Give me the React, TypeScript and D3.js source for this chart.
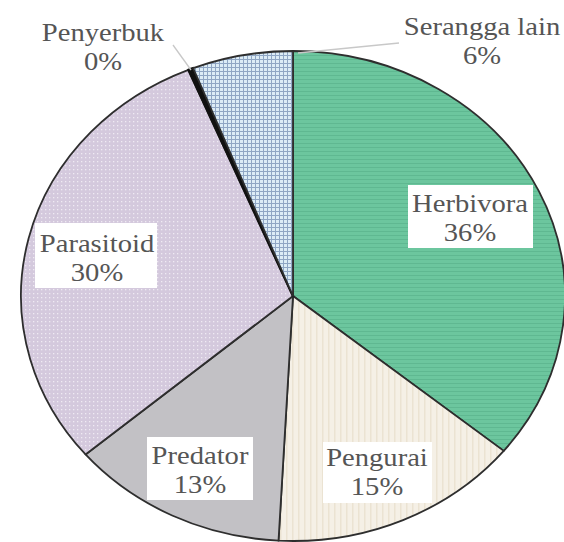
import React from "react";
import * as d3 from "d3";

const categories = ["Herbivora", "Pengurai", "Predator", "Parasitoid", "Penyerbuk", "Serangga lain"];
const values = [36, 15, 13, 30, 0.3, 6];
const labels = ["36%", "15%", "13%", "30%", "0%", "6%"];

const W = 564, H = 542;
const cx = 293, cy = 296, rx = 272, ry = 245;
const SX = 1.1;

const fills = ["url(#pHerb)", "url(#pPeng)", "url(#pPred)", "url(#pPara)", "#111", "url(#pSer)"];

const labelPos: Record<string, { x: number; y: number }> = {
  Herbivora: { x: 470, y: 212 },
  Pengurai: { x: 377, y: 466 },
  Predator: { x: 200, y: 464 },
  Parasitoid: { x: 97, y: 252 },
  Penyerbuk: { x: 103, y: 41 },
  "Serangga lain": { x: 482, y: 35 },
};

function pt(a: number) {
  return [cx + rx * Math.sin(a), cy - ry * Math.cos(a)];
}

export default function App() {
  const pie = d3.pie<number>().sort(null).startAngle(0).endAngle(2 * Math.PI);
  const arcs = pie(values);
  const textColor = "#555555";
  const fs = 26;

  const boxes: Record<string, [number, number, number, number]> = {
    Herbivora: [408, 185, 125, 63],
    Pengurai: [323, 442, 109, 61],
    Predator: [147, 437, 106, 63],
    Parasitoid: [35, 223, 122, 65],
  };

  return (
    <svg width={W} height={H} style={{ position: "absolute", left: 0, top: 0, background: "#fff" }}>
      <defs>
        <pattern id="pHerb" patternUnits="userSpaceOnUse" width="6" height="4">
          <rect width="6" height="4" fill="#6cc69e" />
          <rect y="3" width="6" height="1" fill="#5fb891" />
        </pattern>
        <pattern id="pPeng" patternUnits="userSpaceOnUse" width="6" height="4">
          <rect width="6" height="4" fill="#f5f0e6" />
          <rect x="4" width="1.5" height="4" fill="#ebe3d2" />
        </pattern>
        <pattern id="pPred" patternUnits="userSpaceOnUse" width="4" height="4">
          <rect width="4" height="4" fill="#c2c1c5" />
        </pattern>
        <pattern id="pPara" patternUnits="userSpaceOnUse" width="4" height="4">
          <rect width="4" height="4" fill="#d4c9dd" />
          <rect x="1" y="1" width="1.3" height="1.3" fill="#efeaf3" />
        </pattern>
        <pattern id="pSer" patternUnits="userSpaceOnUse" width="4" height="4">
          <rect width="4" height="4" fill="#dcecf6" />
          <rect x="3" width="1" height="4" fill="#8fa6c4" />
          <rect y="3" width="4" height="1" fill="#8fa6c4" />
        </pattern>
      </defs>
      {arcs.map((a, i) => {
        const [x0, y0] = pt(a.startAngle);
        const [x1, y1] = pt(a.endAngle);
        const large = a.endAngle - a.startAngle > Math.PI ? 1 : 0;
        const d = `M${cx},${cy}L${x0},${y0}A${rx},${ry} 0 ${large} 1 ${x1},${y1}Z`;
        const isTiny = categories[i] === "Penyerbuk";
        return (
          <path
            key={categories[i]}
            d={d}
            fill={fills[i]}
            stroke={isTiny ? "#111" : "#2e2e2e"}
            strokeWidth={isTiny ? 2.5 : 1.8}
            strokeLinejoin="round"
          />
        );
      })}
      <line x1={173} y1={45} x2={191} y2={70} stroke="#c8c8c8" strokeWidth={1.3} />
      <line x1={399} y1={43} x2={298} y2={53} stroke="#c8c8c8" strokeWidth={1.3} />
      {Object.entries(boxes).map(([k, b]) => (
        <rect key={"b" + k} x={b[0]} y={b[1]} width={b[2]} height={b[3]} fill="#fff" />
      ))}
      {categories.map((c, i) => {
        const p = labelPos[c];
        return (
          <g key={"t" + c} transform={`translate(${p.x},0) scale(${SX},1)`}
             style={{ fontFamily: "Liberation Serif", fontSize: fs }} fill={textColor}>
            <text x={0} y={p.y} textAnchor="middle">{c}</text>
            <text x={0} y={p.y + 29} textAnchor="middle">{labels[i]}</text>
          </g>
        );
      })}
    </svg>
  );
}
